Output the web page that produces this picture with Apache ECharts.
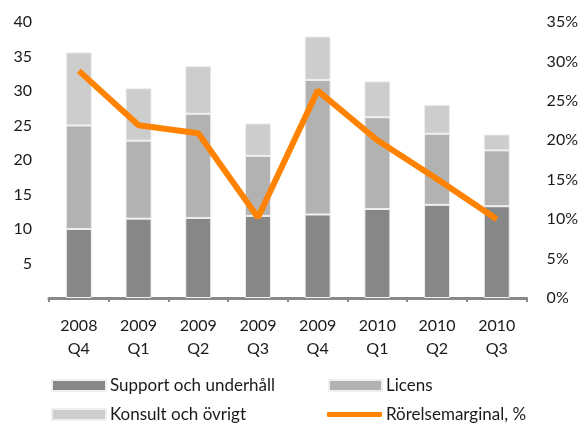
<!DOCTYPE html>
<html><head><meta charset="utf-8">
<script src="https://cdn.jsdelivr.net/npm/echarts@6/dist/echarts.min.js"></script>
<style>html,body{margin:0;padding:0;background:#fff}#c{width:581px;height:424px}</style>
</head><body><div id="c"></div>
<script>
const categories = ['2008\nQ4','2009\nQ1','2009\nQ2','2009\nQ3','2009\nQ4','2010\nQ1','2010\nQ2','2010\nQ3'];
const support = [10.0, 11.5, 11.6, 11.9, 12.1, 12.9, 13.5, 13.3];
const licens = [15.0, 11.3, 15.1, 8.7, 19.5, 13.3, 10.3, 8.1];
const konsult = [10.6, 7.6, 6.9, 4.7, 6.3, 5.2, 4.2, 2.3];
const margin = [28.8, 21.9, 20.9, 10.2, 26.3, 20.0, 15.1, 10.0];
const leftTicks = {min: 0, max: 40, interval: 5};
const rightTicks = {min: 0, max: 35, interval: 5};

const font = 'Lato, "Open Sans", sans-serif';
const chart = echarts.init(document.getElementById('c'), null, {renderer: 'canvas'});
const barStyle = (c) => ({color: c, borderColor: '#efefef', borderWidth: 1});
const legText = {fontSize: 17, color: '#1a1a1a', fontFamily: font, padding: [0, 0, 0, -1]};
chart.setOption({
  animation: false,
  textStyle: {fontFamily: font},
  grid: {left: 49, right: 52, top: 22, bottom: 126},
  legend: [
    {left: 46, top: 372, itemWidth: 54, itemHeight: 11, icon: 'rect', textStyle: legText,
     data: ['Support och underhåll']},
    {left: 323, top: 372, itemWidth: 53, itemHeight: 11, icon: 'rect', textStyle: legText,
     data: ['Licens']},
    {left: 46, top: 401, itemWidth: 54, itemHeight: 11, icon: 'rect', textStyle: legText,
     data: ['Konsult och övrigt']},
    {left: 322, top: 401, itemWidth: 55, itemHeight: 5, textStyle: legText,
     data: [{name: 'Rörelsemarginal, %', icon: 'roundRect', itemStyle: {color: '#ff8200'}}]}
  ],
  xAxis: {
    type: 'category', data: categories,
    axisLine: {lineStyle: {color: '#888', width: 3}},
    axisTick: {show: true, length: 4, lineStyle: {color: '#888', width: 2}},
    axisLabel: {color: '#1a1a1a', fontSize: 16, margin: 16, lineHeight: 23, fontFamily: font}
  },
  yAxis: [
    {type: 'value', min: leftTicks.min, max: leftTicks.max, interval: leftTicks.interval,
     splitLine: {show: false}, axisLine: {show: false}, axisTick: {show: false},
     axisLabel: {color: '#1a1a1a', fontSize: 16, margin: 17, fontFamily: font,
       formatter: v => v === 0 ? '' : String(v)}},
    {type: 'value', min: rightTicks.min, max: rightTicks.max, interval: rightTicks.interval,
     splitLine: {show: false}, axisLine: {show: false}, axisTick: {show: false},
     axisLabel: {color: '#1a1a1a', fontSize: 16, margin: 20, fontFamily: font,
       formatter: '{value}%'}}
  ],
  series: [
    {name: 'Support och underhåll', type: 'bar', stack: 's', barWidth: 26, data: support, itemStyle: barStyle('#878787')},
    {name: 'Licens', type: 'bar', stack: 's', data: licens, itemStyle: barStyle('#b2b2b2')},
    {name: 'Konsult och övrigt', type: 'bar', stack: 's', data: konsult, itemStyle: barStyle('#cdcdcd')},
    {name: 'Rörelsemarginal, %', type: 'line', yAxisIndex: 1, data: margin, symbol: 'none',
     lineStyle: {color: '#ff8200', width: 6}, itemStyle: {color: '#ff8200'}}
  ]
});
</script></body></html>
